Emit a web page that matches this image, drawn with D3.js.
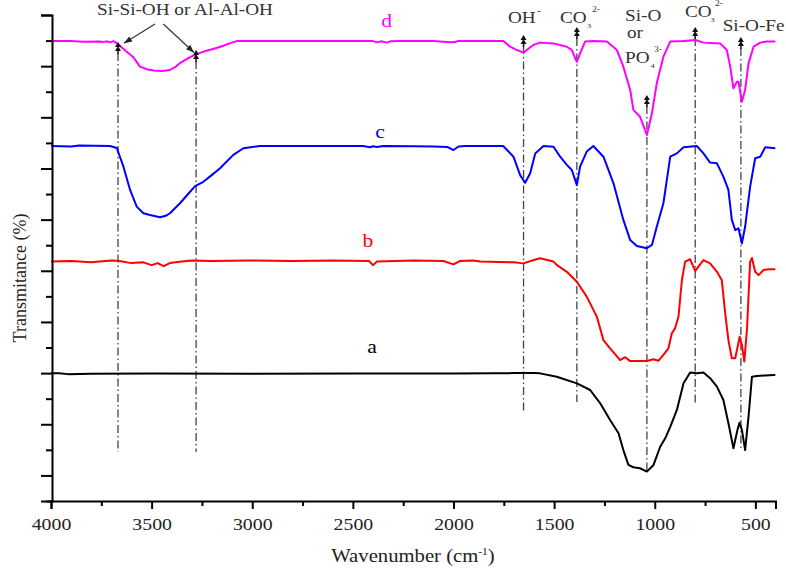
<!DOCTYPE html>
<html><head><meta charset="utf-8">
<script src="https://cdn.jsdelivr.net/npm/d3@7"></script>
<style>body{margin:0;background:#fff}svg{display:block}svg text{font-family:'Liberation Serif','DejaVu Serif',serif !important}</style>
</head><body><svg id="c" width="786" height="569"></svg>
<script>
// ---- data: [wavenumber (cm-1), transmittance (offset units)] ----
const seriesA = [[4000,4.99],[3960,4.99],[3915,4.96],[3800,4.97],[3500,4.98],[3000,4.97],[2500,4.98],[2000,4.98],[1800,4.99],[1700,5.0],[1600,5.0],[1570,4.99],[1487,4.86],[1387,4.6],[1321,4.34],[1271,3.82],[1222,3.17],[1180,2.65],[1156,1.99],[1131,1.41],[1106,1.32],[1073,1.28],[1039,1.15],[1006,1.41],[973,2.12],[948,2.45],[923,2.9],[890,3.56],[857,4.6],[824,5.02],[791,4.99],[758,5.02],[725,4.8],[691,4.47],[659,3.95],[634,3.04],[609,2.06],[589,2.78],[579,3.06],[567,2.78],[551,1.99],[534,3.3],[517,4.86],[493,4.89],[450,4.91],[410,4.93],[401,4.93]];
const seriesB = [[4000,9.36],[3900,9.38],[3800,9.33],[3700,9.4],[3660,9.38],[3600,9.3],[3540,9.33],[3500,9.22],[3470,9.3],[3440,9.18],[3410,9.3],[3350,9.36],[3300,9.4],[3200,9.38],[3000,9.4],[2800,9.38],[2600,9.4],[2420,9.38],[2400,9.22],[2380,9.36],[2200,9.4],[2050,9.38],[2000,9.25],[1970,9.38],[1900,9.4],[1868,9.36],[1700,9.33],[1653,9.29],[1600,9.42],[1570,9.49],[1503,9.36],[1487,9.23],[1437,8.96],[1387,8.57],[1338,7.99],[1288,7.21],[1255,6.29],[1222,5.97],[1172,5.51],[1147,5.62],[1122,5.47],[1073,5.47],[1039,5.47],[1006,5.54],[982,5.48],[957,5.71],[932,5.97],[915,6.56],[899,6.75],[882,7.21],[865,8.64],[849,9.36],[824,9.45],[799,9.0],[758,9.42],[725,9.29],[691,8.96],[667,8.64],[650,7.34],[634,6.29],[617,5.58],[600,5.58],[578,6.42],[567,6.1],[555,5.45],[542,6.68],[526,9.36],[517,9.5],[501,8.96],[484,8.83],[459,9.03],[434,9.06],[401,9.06]];
const seriesC = [[4000,13.88],[3900,13.86],[3860,13.9],[3707,13.88],[3673,13.8],[3640,13.07],[3607,12.16],[3574,11.51],[3541,11.25],[3508,11.18],[3458,11.09],[3430,11.15],[3409,11.25],[3359,11.64],[3309,12.09],[3284,12.31],[3243,12.48],[3200,12.75],[3160,13.01],[3094,13.53],[3044,13.79],[2961,13.88],[2700,13.88],[2450,13.88],[2415,13.83],[2400,13.87],[2380,13.84],[2350,13.88],[2200,13.87],[2100,13.86],[2030,13.84],[2000,13.72],[1975,13.86],[1940,13.88],[1800,13.88],[1753,13.88],[1702,13.46],[1669,12.74],[1644,12.44],[1619,12.81],[1594,13.59],[1553,13.88],[1503,13.85],[1470,13.46],[1437,13.14],[1412,12.94],[1387,12.35],[1371,13.07],[1338,13.66],[1305,13.88],[1255,13.46],[1205,12.42],[1156,10.99],[1122,10.2],[1089,9.97],[1039,9.88],[1014,10.01],[990,10.72],[957,11.64],[923,13.46],[890,13.59],[857,13.83],[791,13.88],[758,13.59],[725,13.23],[691,13.2],[659,12.68],[634,12.16],[617,10.99],[600,10.59],[584,10.66],[567,10.07],[551,10.72],[526,12.29],[501,13.4],[476,13.46],[451,13.83],[401,13.79]];
const seriesD = [[4000,17.98],[3900,17.98],[3840,17.95],[3760,17.96],[3742,17.94],[3720,17.97],[3707,17.93],[3690,17.98],[3667,17.87],[3630,17.6],[3592,17.36],[3558,16.98],[3523,16.88],[3490,16.83],[3448,16.81],[3409,16.85],[3380,16.98],[3359,17.12],[3320,17.3],[3279,17.47],[3240,17.57],[3195,17.67],[3150,17.78],[3110,17.9],[3076,17.98],[2800,17.98],[2400,17.98],[2380,17.93],[2360,17.97],[2330,17.92],[2315,17.97],[2265,17.98],[2100,17.98],[2015,17.93],[1990,17.94],[1980,17.98],[1752,17.98],[1719,17.76],[1685,17.63],[1652,17.53],[1625,17.7],[1603,17.83],[1570,17.92],[1503,17.89],[1437,17.76],[1412,17.63],[1395,17.3],[1387,17.17],[1371,17.5],[1346,17.96],[1305,17.98],[1238,17.96],[1188,17.63],[1156,16.98],[1122,16.07],[1106,15.29],[1073,15.02],[1039,14.31],[1014,15.16],[990,16.33],[957,17.37],[923,17.96],[857,17.98],[799,18.02],[758,17.92],[675,17.89],[642,17.63],[625,16.98],[609,16.13],[592,16.39],[584,16.39],[567,15.61],[551,16.07],[534,17.11],[509,17.76],[476,17.92],[443,17.96],[401,17.96]];
const seriesNames = ["a","b","c","d"];
const seriesColors = ["#000000","#ff0000","#0000ff","#ff00ff"];
const xTickValues = [4000,3750,3500,3250,3000,2750,2500,2250,2000,1750,1500,1250,1000,750,500];
const yTickValues = [0,1,2,3,4,5,6,7,8,9,10,11,12,13,14,15,16,17,18,19];
const peakWaves = [3667,3279,1652,1387,1039,799,572];
const peakTop = [17.94,17.63,18.22,18.53,15.87,18.53,18.14];
const peakBottom = [1.92,1.92,3.44,3.87,1.13,3.83,2.07];

const FONT = "'Liberation Serif','DejaVu Serif',serif";
const svg = d3.select("#c");
const x = d3.scaleLinear().domain([4000,400]).range([51,775.5]);
const y = d3.scaleLinear().domain([0,19]).range([501,15]);
const ink = "#222";

// dash-dot guide lines
peakWaves.forEach((w,i)=>{
  const px = x(w), top = y(peakTop[i]);
  svg.append("line").attr("x1",px).attr("x2",px).attr("y1",top+11).attr("y2",y(peakBottom[i]))
    .attr("stroke","#444").attr("stroke-width",1.3).attr("stroke-dasharray","8,3,1.5,3");
});

// curves
const line = d3.line().x(d=>x(d[0])).y(d=>y(d[1]));
[seriesA,seriesB,seriesC,seriesD].forEach((s,i)=>{
  svg.append("path").datum(s).attr("d",line).attr("fill","none")
    .attr("stroke",seriesColors[i]).attr("stroke-width",2).attr("stroke-linejoin","round");
});

// markers (small black up arrows)
peakWaves.forEach((w,i)=>{
  const px = x(w), t = y(peakTop[i]);
  svg.append("path").attr("d",`M${px},${t}L${px+3},${t+5}L${px-3},${t+5}ZM${px},${t+4}L${px+3},${t+9}L${px-3},${t+9}Z`)
    .attr("fill","#111");
  svg.append("line").attr("x1",px).attr("x2",px).attr("y1",t+8).attr("y2",t+12).attr("stroke","#111").attr("stroke-width",1.5);
});

// axes
const xAxis = d3.axisBottom(x).tickValues(xTickValues).tickFormat(d=> d%500===0 ? d : "").tickSizeOuter(0).tickSize(8);
const gx = svg.append("g").attr("transform","translate(0,501)").call(xAxis).attr("font-family",FONT);
gx.selectAll(".tick").filter(d=>d%500!==0).select("line").attr("y2",5);
gx.selectAll("line").attr("stroke","#000").attr("stroke-width",2);
gx.select(".domain").attr("stroke","#000").attr("stroke-width",2);
gx.selectAll("text").attr("y",29.5).attr("dy",0).attr("transform","scale(1.2,1)")
  .style("font-size","16.5px").attr("fill",ink);

const yAxis = d3.axisLeft(y).tickValues(yTickValues).tickFormat("").tickSizeOuter(0).tickSize(11);
const gy = svg.append("g").attr("transform","translate(52,0)").call(yAxis);
gy.selectAll(".tick").filter(d=>d%2===0).select("line").attr("x2",-6);
gy.selectAll("line").attr("stroke","#000").attr("stroke-width",2);
gy.select(".domain").attr("stroke","#000").attr("stroke-width",2);

// axis titles
const xt = svg.append("g").attr("transform","translate(413,562) scale(1.15,1)")
  .append("text").attr("text-anchor","middle").attr("fill",ink).style("font-size","18px");
xt.append("tspan").text("Wavenumber (cm");
xt.append("tspan").attr("dy",-7).style("font-size","10px").text("-1");
xt.append("tspan").attr("dy",7).text(")");
svg.append("text").attr("transform","translate(20,278) rotate(-90)").attr("text-anchor","middle")
  .attr("dominant-baseline","central").attr("fill",ink).style("font-size","18px").text("Transmitance (%)");

// series labels
const labelPos = [[372,353],[368,246.5],[380,138],[386.7,26.5]];
seriesNames.forEach((n,i)=>{
  svg.append("g").attr("transform",`translate(${labelPos[i][0]},${labelPos[i][1]}) scale(1.2,1)`)
    .append("text").attr("text-anchor","middle").attr("fill",seriesColors[i]).style("font-size","18px").text(n);
});

// annotation text helper
function lab(txt,px,py,size,anchor){
  svg.append("g").attr("transform",`translate(${px},${py}) scale(1.2,1)`)
    .append("text").attr("text-anchor",anchor||"start").attr("fill","#333").style("font-size",size+"px").text(txt);
}
lab("Si-Si-OH or Al-Al-OH",185,14.5,16,"middle");
lab("OH",508,23.3,16);
lab("-",537,14,10);
lab("CO",560,23.3,16);
lab("3",587,28,7);
lab("2-",592,12,8);
lab("Si-O",625,20.7,16);
lab("or",627,38,16);
lab("PO",625,63.3,16);
lab("4",650.5,68,7);
lab("3-",654,52,8);
lab("CO",685,16.7,16);
lab("3",710.5,22,7);
lab("2-",715,6,8);
lab("Si-O-Fe",722.7,30.7,16);

// oblique arrows for Si-Si-OH label
function arrow(x1,y1,x2,y2){
  svg.append("line").attr("x1",x1).attr("y1",y1).attr("x2",x2).attr("y2",y2).attr("stroke","#333").attr("stroke-width",1.2);
  const a = Math.atan2(y2-y1,x2-x1), L=8, W=3;
  const bx = x2 - L*Math.cos(a), by = y2 - L*Math.sin(a);
  const p1 = [bx + W*Math.sin(a), by - W*Math.cos(a)], p2 = [bx - W*Math.sin(a), by + W*Math.cos(a)];
  svg.append("path").attr("d",`M${x2},${y2}L${p1[0]},${p1[1]}L${p2[0]},${p2[1]}Z`).attr("fill","#222");
}
arrow(155,24,124,43.3);
arrow(163.3,24,194,52.5);

svg.selectAll("text").style("font-family",FONT);
</script></body></html>
